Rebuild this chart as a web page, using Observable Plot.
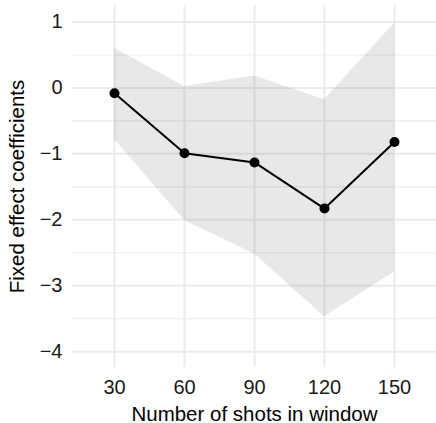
<!DOCTYPE html>
<html>
<head>
<meta charset="utf-8">
<script src="https://cdn.jsdelivr.net/npm/d3@7"></script>
<script src="https://cdn.jsdelivr.net/npm/@observablehq/plot@0.6"></script>
<style>
  html, body { margin: 0; padding: 0; background: #fff; }
  #chart svg { display: block; }
</style>
</head>
<body>
<div id="chart"></div>
<script>
const shots = [30, 60, 90, 120, 150];
const coef = [-0.08, -0.99, -1.13, -1.83, -0.82];
const lower = [-0.78, -2.01, -2.52, -3.47, -2.79];
const upper = [0.60, 0.02, 0.18, -0.18, 0.98];
const xTicks = [30, 60, 90, 120, 150];
const yTicks = [-4, -3, -2, -1, 0, 1];
const yMinor = [-3.5, -2.5, -1.5, -0.5, 0.5];
const xLabel = "Number of shots in window";
const yLabel = "Fixed effect coefficients";

const data = shots.map((s, i) => ({shots: s, coef: coef[i], lower: lower[i], upper: upper[i]}));
const fmt = d => d < 0 ? "\u2212" + Math.abs(d) : String(d);

const chart = Plot.plot({
  width: 436,
  height: 423,
  marginLeft: 72,
  marginRight: 0,
  marginTop: 5,
  marginBottom: 56,
  style: {fontFamily: "'Liberation Sans', Arial, sans-serif", background: "#fff"},
  x: {domain: [12, 168]},
  y: {domain: [-4.24, 1.25]},
  marks: [
    Plot.gridY(yMinor, {stroke: "#ebebeb", strokeOpacity: 1, strokeWidth: 1.1}),
    Plot.gridY(yTicks, {stroke: "#ebebeb", strokeOpacity: 1, strokeWidth: 2}),
    Plot.gridX(xTicks, {stroke: "#ebebeb", strokeOpacity: 1, strokeWidth: 2}),
    Plot.areaY(data, {x: "shots", y1: "lower", y2: "upper", fill: "#191919", fillOpacity: 0.1}),
    Plot.line(data, {x: "shots", y: "coef", stroke: "#000", strokeWidth: 2}),
    Plot.dot(data, {x: "shots", y: "coef", r: 5, fill: "#000", stroke: "none"}),
    Plot.axisX(xTicks, {tickSize: 0, tickPadding: 12, fontSize: 20, fill: "#1a1a1a",
      tickFormat: fmt, label: null}),
    Plot.axisX({label: xLabel, ticks: [], tickSize: 0, fontSize: 20.5, fill: "#000",
      labelAnchor: "center", labelOffset: 53, labelArrow: "none"}),
    Plot.axisY(yTicks, {tickSize: 0, tickPadding: 10, fontSize: 20, fill: "#1a1a1a",
      tickFormat: fmt, label: null}),
    Plot.axisY({label: yLabel, ticks: [], tickSize: 0, fontSize: 20.5, fill: "#000",
      labelAnchor: "center", labelOffset: 63, labelArrow: "none"})
  ]
});
document.getElementById("chart").appendChild(chart);
</script>
</body>
</html>
